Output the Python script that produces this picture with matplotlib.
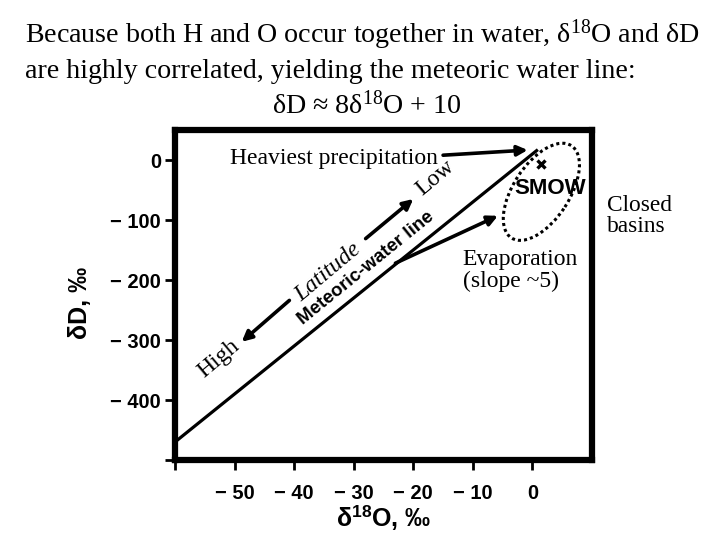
import numpy as np
import matplotlib
matplotlib.use("Agg")
import matplotlib.pyplot as plt
from matplotlib.patches import Ellipse
import matplotlib.transforms as mtransforms

plt.rcParams['mathtext.fontset'] = 'custom'
plt.rcParams['mathtext.rm'] = 'Liberation Serif'
plt.rcParams['mathtext.it'] = 'Liberation Serif:italic'
plt.rcParams['mathtext.bf'] = 'Liberation Sans:bold'

# ---- data ----
mwl_x = [-60, 0.7]                 # delta18O range of meteoric water line
mwl_slope = 8
mwl_intercept = 10
smow_x = [1.5]
smow_y = [-6.6]
evap_start = (-23, -172)
evap_end = (-5.8, -93)
x_ticks = [-60, -50, -40, -30, -20, -10, 0]
x_ticklabels = ["", "− 50", "− 40", "− 30", "− 20", "− 10", "0"]
y_ticks = [-500, -400, -300, -200, -100, 0]
y_ticklabels = ["", "− 400", "− 300", "− 200", "− 100", "0"]

fig = plt.figure(figsize=(7.2, 5.4), dpi=100)
ax = fig.add_axes([175/720, 80/540, 417/720, 330/540])
ax.set_xlim(-60, 10)
ax.set_ylim(-500, 50)

for s in ax.spines.values():
    s.set_linewidth(4.5)
    s.set_color('black')

ax.set_xticks(x_ticks)
ax.set_xticklabels(x_ticklabels)
ax.set_yticks(y_ticks)
ax.set_yticklabels(y_ticklabels)
ax.tick_params(direction='out', length=7, width=2, color='black', labelsize=14.5, pad=3)
for lab in ax.get_xticklabels() + ax.get_yticklabels():
    lab.set_family('Liberation Sans')
    lab.set_fontweight('bold')
ax.tick_params(axis='x', pad=10)

ax.set_xlabel(r"δ$^{\mathbf{18}}$O, ‰", family='Liberation Sans', fontweight='bold', fontsize=18, labelpad=0)
ax.set_ylabel("δD, ‰", family='Liberation Sans', fontweight='bold', fontsize=18)
ax.yaxis.set_label_coords(-0.199, 0.475)

# meteoric water line
xs = np.array(mwl_x)
ax.plot(xs, mwl_slope * xs + mwl_intercept, color='black', lw=2.3)

# SMOW
ax.plot(smow_x, smow_y, marker='x', color='black', ms=6, mew=2.4, ls='none')
ax.text(3.0, -48, "SMOW", family='Liberation Sans', fontweight='bold', fontsize=16,
        ha='center', va='center')

# dotted ellipse (closed basins)
trans = fig.dpi_scale_trans + mtransforms.ScaledTranslation(1.5, -53, ax.transData)
ax.add_patch(Ellipse((0, 0), 1.10, 0.56, angle=57, transform=trans, fill=False,
                     ls=(0, (1, 1)), lw=2.2, color='black', clip_on=False))

arrow_kw = dict(arrowstyle='-|>', color='black', lw=2.6, mutation_scale=15,
                shrinkA=0, shrinkB=0)

# evaporation arrow
ax.annotate("", xy=evap_end, xytext=evap_start, arrowprops=arrow_kw)
ax.text(-11.7, -184, "Evaporation\n(slope ~5)", family='Liberation Serif', fontsize=17,
        ha='left', va='center', linespacing=1.05)

# heaviest precipitation
ax.text(-15.8, 1.7, "Heaviest precipitation", family='Liberation Serif', fontsize=17,
        ha='right', va='center')
ax.annotate("", xy=(-0.8, 16.6), xytext=(-15, 8), arrowprops=arrow_kw)

# latitude labels
ax.text(-16.3, -30, "Low", family='Liberation Serif', fontsize=17, rotation=40,
        ha='center', va='center')
ax.text(-34.3, -187, "Latitude", family='Liberation Serif', style='italic', fontsize=17,
        rotation=40, ha='center', va='center')
ax.text(-52.7, -332, "High", family='Liberation Serif', fontsize=17, rotation=40,
        ha='center', va='center')
ax.annotate("", xy=(-48.8, -303), xytext=(-40.8, -234), arrowprops=arrow_kw)
ax.annotate("", xy=(-20, -65), xytext=(-28, -131), arrowprops=arrow_kw)

ax.text(-28, -181, "Meteoric-water line", family='Liberation Sans', fontweight='bold',
        fontsize=13.5, rotation=39, ha='center', va='center')

# outside text
fig.text(607/720, 1 - 216/540, "Closed\nbasins", family='Liberation Serif', fontsize=16.8,
         ha='left', va='center', linespacing=0.95)

fig.text(25/720, 1 - 35/540, "Because both H and O occur together in water, δ$^{18}$O and δD",
         family='Liberation Serif', fontsize=20.2, ha='left', va='center')
fig.text(25/720, 1 - 72/540, "are highly correlated, yielding the meteoric water line:",
         family='Liberation Serif', fontsize=20.2, ha='left', va='center')
fig.text(367/720, 1 - 105/540, "δD ≈ 8δ$^{18}$O + 10",
         family='Liberation Serif', fontsize=20.2, ha='center', va='center')

fig.savefig("out.png", dpi=100)
